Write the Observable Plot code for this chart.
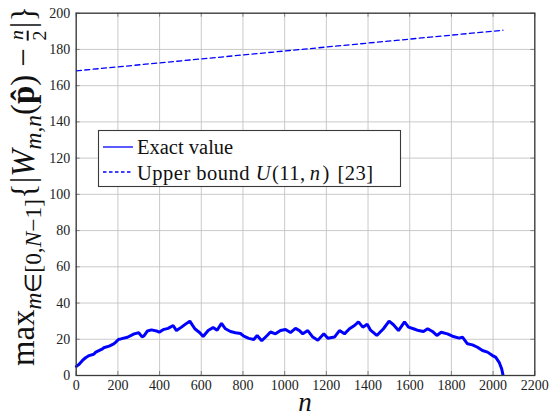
<!DOCTYPE html>
<html>
<head>
<meta charset="utf-8">
<script src="https://cdn.jsdelivr.net/npm/d3@7"></script>
<script src="https://cdn.jsdelivr.net/npm/@observablehq/plot@0.6"></script>
<style>
  html, body { margin: 0; padding: 0; background: #fff; }
  #chart svg { display: block; }
  #chart svg text { font-family: "Liberation Serif", "Times New Roman", serif; }
</style>
</head>
<body>
<div id="chart"></div>
<script>
// ---- data ----
const xTicks = [0, 200, 400, 600, 800, 1000, 1200, 1400, 1600, 1800, 2000, 2200];
const yTicks = [0, 20, 40, 60, 80, 100, 120, 140, 160, 180, 200];

const exactN = [1, 12, 30, 45, 62, 84, 94, 126, 132, 158, 180, 190, 204, 214, 246, 278, 300, 316, 326, 342,
  361, 385, 398, 417, 441, 465, 481, 505, 526, 545, 569, 593, 609, 633, 657, 676, 697, 716, 740, 764,
  788, 804, 828, 852, 868, 890, 916, 932, 956, 980, 1004, 1028, 1052, 1071, 1087, 1111, 1135, 1159, 1188, 1207,
  1239, 1263, 1287, 1311, 1335, 1354, 1375, 1396, 1412, 1442, 1474, 1501, 1522, 1546, 1575, 1594, 1618, 1642, 1666, 1686,
  1709, 1730, 1751, 1781, 1805, 1837, 1853, 1877, 1901, 1925, 1949, 1973, 1997, 2012, 2029, 2041, 2047];
const exactV = [5, 6, 8.3, 9.8, 11, 11.7, 12.9, 14.7, 15.3, 16.2, 17.4, 18.4, 20, 20.2, 21.1, 23, 23.6, 21.3, 22, 24.6,
  25.2, 24.6, 23.9, 25.3, 26, 27.6, 24.8, 26.7, 28.5, 30, 25.8, 23.6, 21.5, 24.8, 26.5, 25, 28.8, 25.8, 24.3, 23.6,
  23.2, 21.7, 20.5, 19.9, 22.1, 19.2, 22.1, 24, 23, 24.8, 25.4, 23.7, 26, 24.8, 23, 24.8, 21.2, 19.5, 23, 20.6,
  21.2, 24.8, 23, 25.8, 27.6, 29.6, 26.7, 28.3, 25, 22.1, 25.8, 30, 28, 24.8, 29.6, 26.7, 25.8, 24.8, 24.3, 25.8,
  24.3, 22.1, 23.9, 23, 21.7, 20.6, 21.2, 17.5, 16.9, 15.6, 13.8, 12.9, 11, 10.1, 7.3, 3.7, 0.5];

const boundN = [1, 512, 1024, 1536, 2047];
const boundV = [168.2, 173.8, 179.4, 185.0, 190.6];

const exact = exactN.map((n, i) => ({n, v: exactV[i]}));
const bound = boundN.map((n, i) => ({n, v: boundV[i]}));

const serif = "Liberation Serif, Times New Roman, serif";
const frameColor = "#3a3a3a";
const gridColor = "#c4c4c4";
const blue = "#0000ff";

const plot = Plot.plot({
  width: 551,
  height: 417,
  marginLeft: 75.7,
  marginRight: 16.7,
  marginTop: 12.7,
  marginBottom: 42,
  style: {fontFamily: serif, fontSize: "14px", color: "#222", background: "#fff"},
  x: {domain: [0, 2200]},
  y: {domain: [0, 200]},
  marks: [
    Plot.gridX(xTicks, {stroke: gridColor, strokeOpacity: 1, strokeWidth: 0.9}),
    Plot.gridY(yTicks, {stroke: gridColor, strokeOpacity: 1, strokeWidth: 0.9}),
    // inward ticks
    Plot.ruleX(xTicks, {x: d => d, y1: 0, y2: 2.2, stroke: "#777", strokeWidth: 0.9}),
    Plot.ruleX(xTicks, {x: d => d, y1: 197.8, y2: 200, stroke: "#777", strokeWidth: 0.9}),
    Plot.ruleY(yTicks, {y: d => d, x1: 0, x2: 19, stroke: "#777", strokeWidth: 0.9}),
    Plot.ruleY(yTicks, {y: d => d, x1: 2181, x2: 2200, stroke: "#777", strokeWidth: 0.9}),
    Plot.axisX(xTicks, {tickSize: 0, tickPadding: 5, fontSize: 14, label: null, tickFormat: d => String(d)}),
    Plot.axisY(yTicks, {tickSize: 0, tickPadding: 6, fontSize: 14, label: null, tickFormat: d => String(d)}),
    Plot.line(bound, {x: "n", y: "v", stroke: blue, strokeWidth: 1.3, strokeDasharray: "5,3.4"}),
    Plot.line(exact, {x: "n", y: "v", stroke: blue, strokeWidth: 3, strokeLinejoin: "miter"}),
    Plot.frame({stroke: frameColor, strokeWidth: 1.3})
  ]
});

document.getElementById("chart").appendChild(plot);
const svg = d3.select(plot);

// x-axis label
svg.append("text")
  .attr("x", 305).attr("y", 411)
  .attr("text-anchor", "middle")
  .attr("font-style", "italic")
  .attr("font-size", 27).attr("fill", "#111")
  .text("n");

// y-axis label (rotated)
const ylg = svg.append("g");
const yl = ylg.append("text")
  .attr("text-anchor", "middle")
  .attr("font-size", 28).attr("fill", "#111");
yl.append("tspan").text("max");
yl.append("tspan").attr("font-size", 20).attr("dy", 6).html("<tspan font-style='italic'>m</tspan>∈[0,<tspan font-style='italic'>N</tspan>−1]");
yl.append("tspan").attr("dy", -6).text("{|");
yl.append("tspan").attr("font-style", "italic").text("W");
yl.append("tspan").attr("font-size", 20).attr("dy", 6).attr("font-style", "italic").text("m,n");
yl.append("tspan").attr("dy", -6).text("(");
yl.append("tspan").attr("font-weight", "bold").text("p\u0302");
yl.append("tspan").text(") − ");
yl.append("tspan").attr("font-size", 17).attr("font-style", "italic").attr("dy", -9).text("n");
yl.append("tspan").attr("font-size", 17).attr("dx", -9).attr("dy", 19).attr("text-decoration", "overline").text("2");
yl.append("tspan").attr("dy", -10).attr("dx", 2).text("|}");
{
  const bb = yl.node().getBBox();
  const s = 360 / bb.width;
  ylg.attr("transform", `translate(34,186) rotate(-90) scale(${s})`);
}

// legend
const lg = svg.append("g").attr("text-anchor", "start");
lg.append("rect").attr("x", 98.5).attr("y", 130.5).attr("width", 302).attr("height", 56)
  .attr("fill", "#fff").attr("stroke", frameColor).attr("stroke-width", 1.1);
lg.append("line").attr("x1", 103).attr("x2", 133).attr("y1", 147).attr("y2", 147)
  .attr("stroke", blue).attr("stroke-width", 1.3);
lg.append("line").attr("x1", 103).attr("x2", 133).attr("y1", 172).attr("y2", 172)
  .attr("stroke", blue).attr("stroke-width", 1.3).attr("stroke-dasharray", "3.5,2.5");
lg.append("text").attr("x", 137).attr("y", 154).attr("text-anchor", "start")
  .attr("font-size", 20.5).attr("fill", "#111")
  .text("Exact value");
lg.append("text").attr("x", 137).attr("y", 180).attr("text-anchor", "start")
  .attr("font-size", 20.5).attr("fill", "#111").attr("letter-spacing", 0.5)
  .html("Upper bound <tspan font-style='italic'>U</tspan><tspan dx='1'>(11,</tspan><tspan dx='4' font-style='italic'>n</tspan><tspan dx='2'>)</tspan><tspan dx='2'>\u00a0[23]</tspan>");
</script>
</body>
</html>
